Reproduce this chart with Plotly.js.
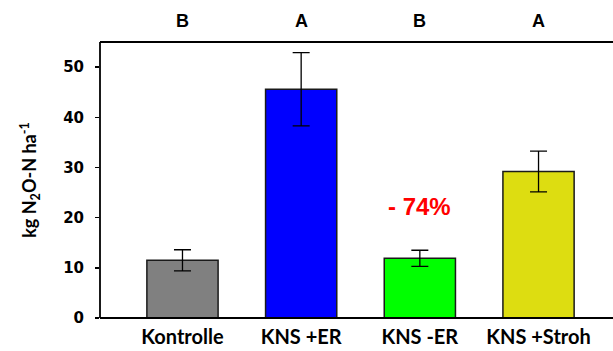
<!DOCTYPE html>
<html><head><meta charset="utf-8">
<script src="https://cdn.plot.ly/plotly-3.0.1.min.js"></script>
<style>html,body{margin:0;padding:0;background:#fff;overflow:hidden}</style>
</head><body><div id="chart" style="width:613px;height:351px"></div>
<script>
const categories = ["Kontrolle", "KNS +ER", "KNS -ER", "KNS +Stroh"];
const values = [11.5, 45.6, 11.9, 29.2];
const errors = [2.1, 7.3, 1.6, 4.05];
const colors = ["#808080", "#0000ff", "#00ff00", "#dddd11"];
const letters = ["B", "A", "B", "A"];
const yTicks = [0, 10, 20, 30, 40, 50];
const reductionLabel = "- 74%";
const reductionIndex = 2;
const reductionY = 22.3;

const trace = {
  type: "bar",
  x: [0, 1, 2, 3],
  y: values,
  width: 0.6,
  marker: {color: colors, line: {color: "#1a1a1a", width: 1.5}},
  error_y: {type: "data", array: errors, visible: true, color: "#000", thickness: 1.3, width: 8.5},
  hoverinfo: "none"
};

const annotations = letters.map((t, i) => ({
  x: i, y: 1.075, xref: "x", yref: "paper", yanchor: "middle", text: "<b>" + t + "</b>",
  showarrow: false, font: {family: "Liberation Sans, Arial", size: 18, color: "#000"}
}));
annotations.push({
  x: reductionIndex, y: reductionY, xref: "x", yref: "y", yanchor: "middle", text: "<b>" + reductionLabel + "</b>",
  showarrow: false, font: {family: "Liberation Sans, Arial", size: 24, color: "#ff0000"}
});

const layout = {
  width: 613, height: 351,
  margin: {l: 100, r: 20, t: 42, b: 33, pad: 0},
  paper_bgcolor: "#fff", plot_bgcolor: "#fff",
  showlegend: false,
  xaxis: {
    range: [-0.695, 3.459],
    tickvals: [0, 1, 2, 3], ticktext: categories,
    showgrid: false, zeroline: false,
    showline: false,
    ticks: "", ticklen: 0, ticklabelstandoff: 5,
    tickfont: {family: "Lato, Open Sans, sans-serif", size: 20, color: "#000", weight: "bold"},
    fixedrange: true
  },
  yaxis: {
    range: [0, 55],
    tickvals: yTicks,
    showgrid: false, zeroline: false,
    showline: false,
    ticks: "outside", ticklen: 4, tickwidth: 1.5, tickcolor: "#000",
    ticklabelstandoff: 8,
    tickfont: {family: "DejaVu Sans, sans-serif", size: 15, color: "#000", weight: "bold"},
    title: {text: "<b>kg N<sub>2</sub>O-N ha<sup>-1</sup></b>", standoff: 21,
            font: {family: "Lato, sans-serif", size: 18, color: "#000"}},
    fixedrange: true
  },
  shapes: [
    {type: "line", xref: "paper", yref: "paper", x0: 0, x1: 1.05, y0: 1, y1: 1, line: {color: "#000", width: 1.8}},
    {type: "line", xref: "paper", yref: "paper", x0: 0, x1: 1.05, y0: 0, y1: 0, line: {color: "#000", width: 1.8}},
    {type: "line", xref: "paper", yref: "paper", x0: 0, x1: 0, y0: 0, y1: 1, line: {color: "#000", width: 1.8}}
  ],
  annotations: annotations
};

Plotly.newPlot("chart", [trace], layout, {staticPlot: true});
</script></body></html>
